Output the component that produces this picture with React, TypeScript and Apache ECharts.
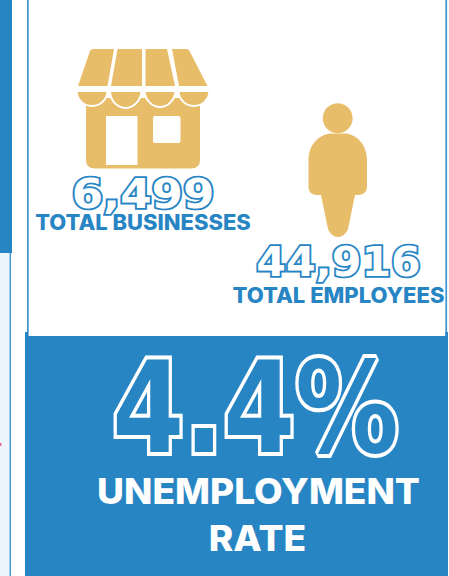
import React, { useEffect, useRef } from "react";
import * as echarts from "echarts";

const businessValue = "6,499";
const businessLabel = "TOTAL BUSINESSES";
const employeeValue = "44,916";
const employeeLabel = "TOTAL EMPLOYEES";
const rateValue = "4.4%";
const rateLabelLines = ["UNEMPLOYMENT", "RATE"];

const BLUE = "#2785c4";
const GOLD = "#e8bd69";
const FONT = "Inter";
const HEAVY = "DejaVu Sans";

const g: any = echarts.graphic;
g.registerShape("awning", g.extendPath(
  "M93 49 L114 49 L107.5 86 L78 86 L90 51 Q91 49 93 49 Z " +
  "M117.5 49 L142 49 L142 86 L111 86 Z " +
  "M145.5 49 L167 49 L175 86 L145.5 86 Z " +
  "M172 49 L186 49 Q189 49 190 52 L207.5 86 L179 86 Z", {}));
g.registerShape("scallops", g.extendPath(
  "M76.5 91 L107.5 91 C107 100 100 106 92 106 C84 106 77 100 76.5 91 Z " +
  "M110 91 L141.5 91 C141 100 134 108 125.5 108 C117 108 110 100 110 91 Z " +
  "M144.5 91 L175.5 91 C175 100 168 107 160 107 C152 107 145 100 144.5 91 Z " +
  "M178.5 91 L209.5 91 C209 100 202 106 194 106 C186 106 179 100 178.5 91 Z", {}));
g.registerShape("storeBody", g.extendPath(
  "M86 98 L200 98 L200 160 Q200 168.5 191 168.5 L95 168.5 Q86 168.5 86 160 Z", {}));
g.registerShape("person", g.extendPath(
  "M308.5 160 C308.5 143 321 133.5 332 133.5 L344 133.5 C355 133.5 367 143 367 160 L367 187 " +
  "C367 192 363 195 358 195 L355 195 L348 229 C346 234 342 237 338 237 C334 237 330 234 328 229 " +
  "L321 195 L317 195 C312 195 308.5 192 308.5 187 Z", {}));

function label(text: string, x: number, y: number, size: number, scaleX: number, fill: string, family = FONT, weight: any = 800, stroke?: string, lineWidth = 0) {
  return {
    type: "text", x, y, scaleX, silent: true,
    style: {
      text, x: 0, y: 0, fill, fontFamily: family, fontSize: size, fontWeight: weight,
      textAlign: "center", textVerticalAlign: "middle",
      ...(stroke ? { stroke, lineWidth } : {}),
    },
  };
}

export default function App() {
  const ref = useRef<HTMLDivElement>(null);
  useEffect(() => {
    document.body.style.margin = "0";
    const chart = echarts.init(ref.current!, undefined, { renderer: "svg" });
    chart.setOption({
      animation: false,
      backgroundColor: "#ffffff",
      graphic: [
        { type: "rect", shape: { x: 0, y: 0, width: 12, height: 253 }, style: { fill: BLUE } },
        { type: "rect", shape: { x: 0, y: 253, width: 9.5, height: 323 }, style: { fill: "#eef6fd" } },
        { type: "rect", shape: { x: 9.5, y: 253, width: 1.5, height: 323 }, style: { fill: "#4a98d0" } },
        { type: "rect", shape: { x: 0, y: 443, width: 1.5, height: 3 }, style: { fill: "#e8688a" } },
        { type: "rect", shape: { x: 27, y: 0, width: 1.7, height: 336 }, style: { fill: "#3f93cd" } },
        { type: "rect", shape: { x: 445.4, y: 0, width: 1.7, height: 336 }, style: { fill: "#3f93cd" } },
        { type: "rect", shape: { x: 25, y: 332, width: 3, height: 5 }, style: { fill: BLUE } },
        { type: "rect", shape: { x: 445.4, y: 332, width: 2.6, height: 5 }, style: { fill: BLUE } },
        { type: "rect", shape: { x: 25, y: 336, width: 423, height: 240 }, style: { fill: BLUE } },

        { type: "storeBody", style: { fill: GOLD } },
        { type: "scallops", style: { fill: GOLD, stroke: "#ffffff", lineWidth: 2 } },
        { type: "awning", style: { fill: GOLD } },
        { type: "rect", shape: { x: 106, y: 116, width: 31.5, height: 49 }, style: { fill: "#ffffff" } },
        { type: "rect", shape: { x: 153, y: 116, width: 27.5, height: 27, r: 2 }, style: { fill: "#ffffff" } },

        { type: "circle", shape: { cx: 337.7, cy: 118.3, r: 15 }, style: { fill: GOLD } },
        { type: "person", style: { fill: GOLD } },

        label(businessValue, 143, 194, 41, 1.1, "#ffffff", HEAVY, "bold", BLUE, 3.6),
        label(businessLabel, 143, 222.5, 21, 1.045, BLUE),
        label(employeeValue, 338.5, 261.5, 41, 1.04, "#ffffff", HEAVY, "bold", BLUE, 3.6),
        label(employeeLabel, 338.5, 295.5, 21, 1.05, BLUE),
        label(rateValue, 255.5, 408, 126, 0.82, BLUE, HEAVY, "bold", "#ffffff", 8),
        label(rateLabelLines[0], 258.5, 491, 35, 1.06, "#ffffff"),
        label(rateLabelLines[1], 257.5, 538, 35, 1.06, "#ffffff"),
      ],
    });
    return () => chart.dispose();
  }, []);
  return (
    <>
      <style>{"svg text { paint-order: stroke; }"}</style>
      <div ref={ref} style={{ position: "absolute", left: 0, top: 0, width: 449, height: 576 }} />
    </>
  );
}
